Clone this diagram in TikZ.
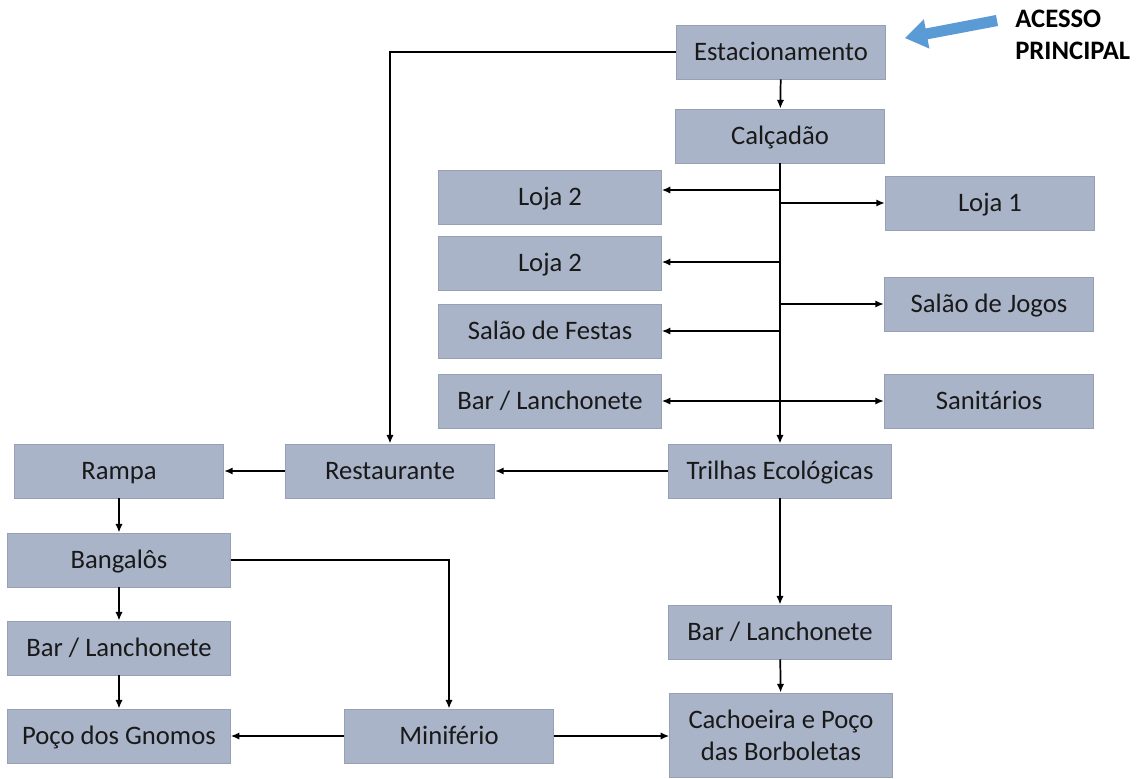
\documentclass[tikz,border=0pt]{standalone}
\usepackage{fontspec}
\setmainfont{Carlito}
\usetikzlibrary{positioning,arrows.meta,calc}
\definecolor{boxfill}{HTML}{A9B4C8}
\definecolor{boxline}{HTML}{97A1B3}
\definecolor{accessblue}{HTML}{5B9BD5}

\begin{document}
\begin{tikzpicture}[x=0.75pt,y=-0.75pt,
    box/.style={draw=boxline, fill=boxfill, line width=0.6pt, minimum height=40.5pt,
      inner sep=2pt, font=\fontsize{20}{24}\selectfont, text=black!90, align=center},
    narrow/.style={box, minimum width=157pt, text height=16pt, text depth=3pt},
    wide/.style={box, minimum width=167pt, text height=16pt, text depth=3pt},
    link/.style={-{Latex[length=6.5pt,width=5.5pt]}, line width=1.3pt},
    twolink/.style={{Latex[length=6.5pt,width=5.5pt]}-{Latex[length=6.5pt,width=5.5pt]}, line width=1.3pt}]
    \useasboundingbox (0,0) rectangle (1144,778);
    % Entrada
    \node[narrow] (est) at (781,52) {Estacionamento};
    \node[narrow] (calc) at (780,136) {Calçadão};
    % Lojas e saloes
    \node[wide] (lojaA) at (550,197) {Loja 2};
    \node[wide] (lojaB) at (550,263) {Loja 2};
    \node[wide] (festas) at (550,331) {Salão de Festas};
    \node[wide] (barA) at (550,401) {Bar / Lanchonete};
    \node[narrow] (loja1) at (990,203) {Loja 1};
    \node[narrow] (jogos) at (989,304) {Salão de Jogos};
    \node[narrow] (sanit) at (989,401) {Sanitários};
    % Trilhas
    \node[wide] (trilhas) at (780,471) {Trilhas Ecológicas};
    \node[narrow] (rest) at (390,471) {Restaurante};
    \node[narrow] (rampa) at (119,471) {Rampa};
    \node[wide] (bang) at (119,560) {Bangalôs};
    \node[wide] (barL) at (119,648) {Bar / Lanchonete};
    \node[wide] (poco) at (119,736) {Poço dos Gnomos};
    \node[narrow] (minif) at (449,736) {Minifério};
    \node[wide] (barR) at (780,632) {Bar / Lanchonete};
    \node[box, minimum width=167pt, minimum height=63pt] (cach) at (781,735) {Cachoeira e Poço\\das Borboletas};
    % Acesso principal
    \fill[accessblue] (996,15) -- (998,26) -- (927.6,39.3) -- (929.4,48.6) -- (905,38)
        -- (923.8,19.2) -- (925.6,28.5) -- cycle;
    \node[anchor=west, inner sep=0pt, align=left, font=\fontsize{20}{24}\selectfont\bfseries]
        (acesso) at (1015,35) {ACESSO\\PRINCIPAL};
    % Ligacoes
    \coordinate (j1) at (780,190);
    \coordinate (j2) at (780,203);
    \coordinate (j3) at (780,262);
    \coordinate (j4) at (780,304);
    \coordinate (j5) at (780,331);
    \draw[link] (est) -- (calc);
    \draw[link] (calc) -- (trilhas);
    \draw[link] (j1) -- (j1 -| lojaA.east);
    \draw[link] (j2) -- (j2 -| loja1.west);
    \draw[link] (j3) -- (j3 -| lojaB.east);
    \draw[link] (j4) -- (j4 -| jogos.west);
    \draw[link] (j5) -- (j5 -| festas.east);
    \draw[twolink] (barA.east) -- (barA.east -| sanit.west);
    \draw[link] (est.west) -| (rest.north);
    \draw[link] (trilhas) -- (rest);
    \draw[link] (rest) -- (rampa);
    \draw[link] (rampa) -- (bang);
    \draw[link] (bang) -- (barL);
    \draw[link] (barL) -- (poco);
    \draw[link] (bang.east) -| (minif.north);
    \draw[link] (minif) -- (poco);
    \draw[link] (minif.east) -- (minif.east -| cach.west);
    \draw[link] (trilhas) -- (barR);
    \draw[link] (barR) -- (cach);
\end{tikzpicture}
\end{document}
